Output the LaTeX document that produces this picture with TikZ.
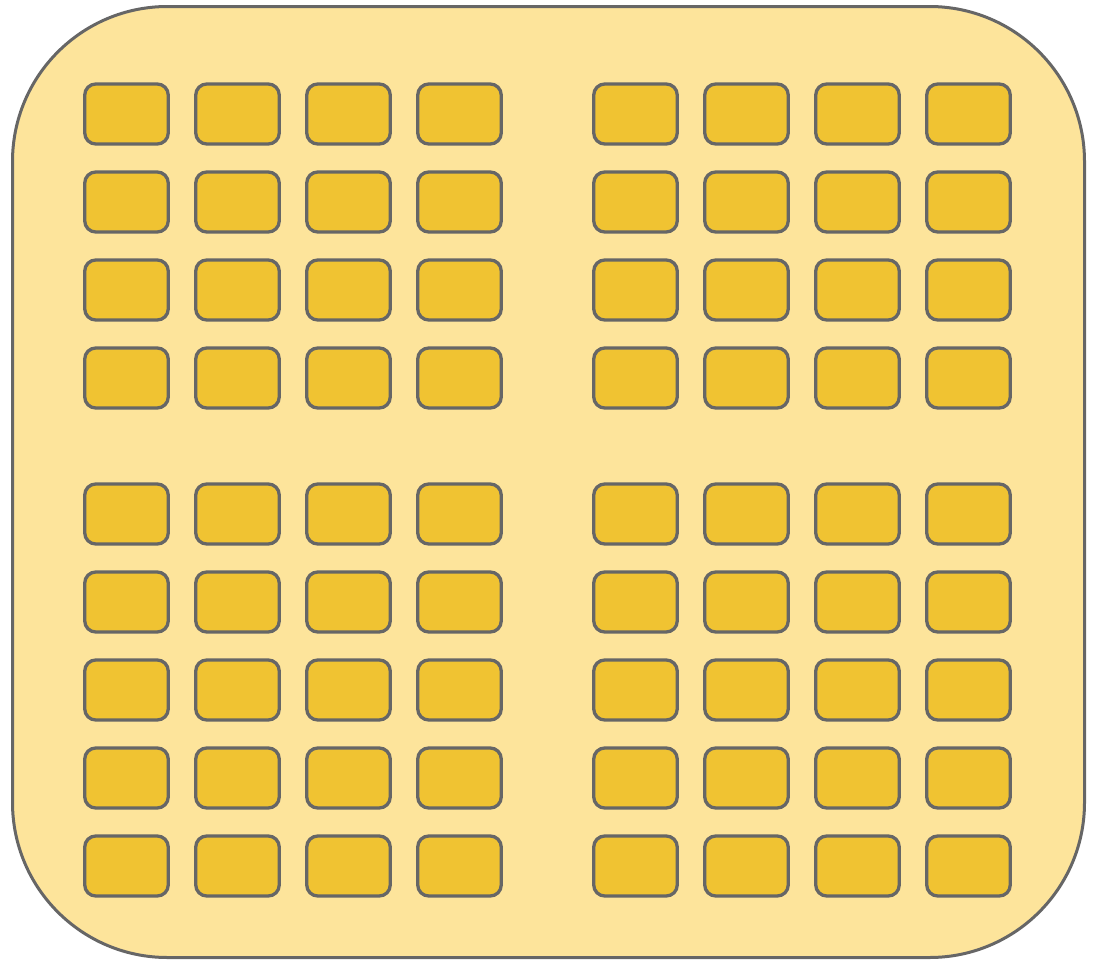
\documentclass[tikz,border=0pt]{standalone}
\usepackage{tikz}

\definecolor{trayfill}{HTML}{FDE49B}
\definecolor{cellfill}{HTML}{F0C332}
\definecolor{edgegray}{HTML}{666666}

\begin{document}
\begin{tikzpicture}[x=1pt, y=-1pt,
    cell/.style={draw=edgegray, fill=cellfill, line width=3.3pt, rounded corners=11pt,
                 minimum width=83.5pt, minimum height=60pt, inner sep=0pt}]
    \useasboundingbox (0,0) rectangle (1095,961);
    % Dėklas
    \filldraw[draw=edgegray, fill=trayfill, line width=3pt, rounded corners=155pt]
        (12.5,6.5) rectangle (1084.5,957.5);
    % Viršutinės grupės
    \foreach \r/\y in {1/114,2/202,3/290,4/378} {
        \foreach \c/\x in {1/126.5,2/237.5,3/348.5,4/459.5,5/635.5,6/746.5,7/857.5,8/968.5} {
            \node[cell] (t-\r-\c) at (\x,\y) {};
        }
    }
    % Apatinės grupės
    \foreach \r/\y in {1/514,2/602,3/690,4/778,5/866} {
        \foreach \c/\x in {1/126.5,2/237.5,3/348.5,4/459.5,5/635.5,6/746.5,7/857.5,8/968.5} {
            \node[cell] (b-\r-\c) at (\x,\y) {};
        }
    }
\end{tikzpicture}
\end{document}
